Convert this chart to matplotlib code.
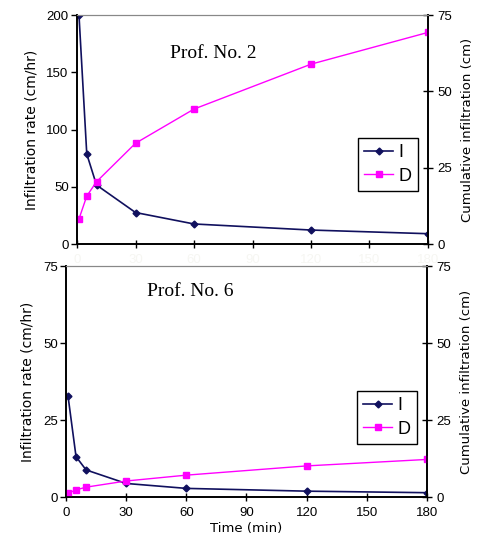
import matplotlib
matplotlib.use("Agg")
import matplotlib.pyplot as plt

# time (min)
time = [1, 5, 10, 30, 60, 120, 180]

# profile 2
rate_p2 = [200, 78.6, 51.5, 27.5, 17.5, 12.2, 9.0]
cum_p2 = [8.2, 15.7, 20.4, 33.0, 44.2, 58.9, 69.3]

# profile 6
rate_p6 = [32.8, 13.1, 8.8, 4.4, 2.8, 1.9, 1.4]
cum_p6 = [1.2, 2.3, 3.2, 5.2, 7.1, 10.1, 12.2]

xticks = [0, 30, 60, 90, 120, 150, 180]
BLUE = "#10105e"
PINK = "#ff00ff"
SANS = "Liberation Sans"
WIDE = "DejaVu Sans"
SERIF = "Liberation Serif"


def panel(fig, rect, rate, cum, ylim, yticks, title, title_xy, leg_anchor, show_x):
    ax = fig.add_axes(rect)
    ax2 = ax.twinx()
    l1, = ax.plot(time, rate, color=BLUE, lw=1.2, marker="D", ms=3.5, mec=BLUE, mfc=BLUE, label="I")
    l2, = ax2.plot(time, cum, color=PINK, lw=1.0, marker="s", ms=5, mec=PINK, mfc=PINK, label="D")
    ax.set_xlim(0, 180)
    ax.set_ylim(*ylim)
    ax.set_yticks(yticks)
    ax2.set_ylim(0, 75)
    ax2.set_yticks([0, 25, 50, 75])
    ax.set_xticks(xticks)
    for a in (ax, ax2):
        a.spines["top"].set_color("#888888")
        a.spines["top"].set_linewidth(0.8)
        a.spines["left"].set_linewidth(1.2)
        a.spines["right"].set_linewidth(1.2)
        a.spines["bottom"].set_linewidth(1.2)
    ax.tick_params(axis="y", direction="out", length=4, width=1, labelsize=9.5, pad=2)
    ax2.tick_params(axis="y", direction="inout", length=7, width=1, labelsize=9.5, pad=3)
    ax.tick_params(axis="x", direction="inout", length=6, width=1, labelsize=9.5, pad=4)
    if not show_x:
        ax.tick_params(axis="x", labelcolor="#f6f6f2")
    for lab in ax.get_xticklabels() + ax.get_yticklabels() + ax2.get_yticklabels():
        lab.set_fontfamily(SANS)
    ax.set_ylabel("Infiltration rate (cm/hr)", fontsize=10, family=WIDE, labelpad=6)
    ax2.set_ylabel("Cumulative infiltration (cm)", fontsize=9.5, family=WIDE, labelpad=7)
    fig.text(title_xy[0], title_xy[1], title, fontsize=14, family=SERIF, ha="left", va="center")
    leg = ax.legend([l1, l2], ["I", "D"], loc="lower right", bbox_to_anchor=leg_anchor,
                    frameon=True, fancybox=False, edgecolor="black", framealpha=1,
                    prop={"family": SANS, "size": 13}, handlelength=1.6, handletextpad=0.3,
                    borderpad=0.35, labelspacing=0.35, borderaxespad=0)
    leg.get_frame().set_linewidth(1.0)
    return ax


fig = plt.figure(figsize=(4.79, 5.42), dpi=100)

panel(fig, [0.1608, 0.5498, 0.7327, 0.4225], rate_p2, cum_p2, (0, 200), [0, 50, 100, 150, 200],
      "Prof. No. 2", (170 / 479, 1 - 54 / 542), (0.9715, 0.231), False)
ax = panel(fig, [0.1378, 0.0830, 0.7536, 0.4262], rate_p6, cum_p6, (0, 75), [0, 25, 50, 75],
           "Prof. No. 6", (147 / 479, 1 - 292 / 542), (0.972, 0.229), True)
ax.set_xlabel("Time (min)", fontsize=9.5, family=WIDE, labelpad=2)

fig.savefig("out.png", dpi=100)
